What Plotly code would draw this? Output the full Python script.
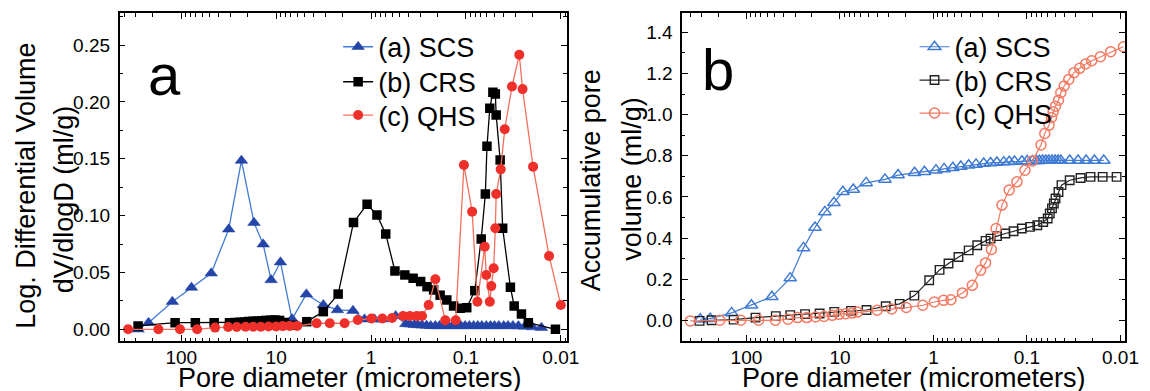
import plotly.graph_objects as go

# ---------------- data (pore diameter in micrometers) ----------------
# Panel a: log differential volume dV/dlogD (ml/g)
scs_a_d = [285, 221, 124, 78, 48.3, 31.6, 23.2, 17.1, 13.7, 11.3,
           9.0, 6.8, 4.8, 3.18, 2.26, 1.55, 1.17, 0.92, 0.76, 0.55,
           0.43, 0.39, 0.35, 0.32, 0.29, 0.26, 0.235, 0.21, 0.19, 0.17,
           0.155, 0.14, 0.125, 0.113, 0.102, 0.092, 0.083, 0.075, 0.068, 0.061,
           0.055, 0.05, 0.045, 0.04, 0.036, 0.032, 0.028, 0.024, 0.02, 0.016]
scs_a_v = [0.0, 0.0058, 0.0243, 0.0367, 0.0493, 0.088, 0.1484, 0.0938, 0.0748, 0.0434,
           0.059, 0.009, 0.0308, 0.0214, 0.017, 0.0164, 0.0088, 0.0088, 0.0088, 0.0117,
           0.0047, 0.0045, 0.004, 0.0038, 0.0035, 0.0033, 0.003, 0.003, 0.003, 0.003,
           0.003, 0.003, 0.003, 0.003, 0.003, 0.003, 0.003, 0.003, 0.003, 0.003,
           0.003, 0.003, 0.003, 0.003, 0.003, 0.003, 0.0028, 0.0025, 0.002, 0.0014]

crs_a_d = [285, 116, 71, 45, 31, 27, 24, 21.5, 19.5, 17.5,
           15.8, 14.2, 12.8, 11.5, 10.3, 9.2, 8.2, 6.6, 4.75, 3.18,
           2.22, 1.53, 1.10, 0.866, 0.70, 0.56, 0.44, 0.36, 0.30, 0.257,
           0.219, 0.187, 0.159, 0.135, 0.115, 0.098, 0.0806, 0.069, 0.0624, 0.060,
           0.056, 0.052, 0.049, 0.048, 0.0436, 0.041, 0.034, 0.031, 0.026, 0.022,
           0.0114]
crs_a_v = [0.003, 0.0058, 0.0058, 0.0058, 0.0058, 0.006, 0.0062, 0.0065, 0.0068, 0.007,
           0.0072, 0.0075, 0.0078, 0.008, 0.0082, 0.0078, 0.006, 0.0035, 0.0067, 0.0155,
           0.031, 0.094, 0.110, 0.1006, 0.0839, 0.0513, 0.0478, 0.0449, 0.042, 0.0375,
           0.0346, 0.030, 0.0258, 0.0205, 0.0185, 0.019, 0.034, 0.0795, 0.119, 0.161,
           0.1945, 0.2086, 0.207, 0.1886, 0.149, 0.0889, 0.037, 0.0205, 0.0135, 0.0058,
           0.0]

qhs_a_d = [363, 174, 103, 68, 44, 32, 26, 21, 17.5, 14.5,
           12, 10, 8.5, 7.2, 6, 3.74, 2.72, 1.9, 1.38, 0.99,
           0.76, 0.6, 0.46, 0.39, 0.33, 0.29, 0.247, 0.21, 0.165, 0.128,
           0.105, 0.086, 0.0757, 0.0634, 0.061, 0.056, 0.054, 0.051, 0.049, 0.048,
           0.043, 0.039, 0.0327, 0.0274, 0.0253, 0.0196, 0.0133, 0.01]
qhs_a_v = [0.0, 0.0, 0.0, 0.0, 0.0015, 0.002, 0.002, 0.0022, 0.0022, 0.0022,
           0.0025, 0.0025, 0.0028, 0.003, 0.003, 0.0053, 0.0053, 0.0053, 0.0082, 0.0095,
           0.0095, 0.010, 0.0117, 0.0117, 0.0117, 0.0117, 0.0214, 0.044, 0.008, 0.008,
           0.1446, 0.1035, 0.0243, 0.0727, 0.0478, 0.0243, 0.038, 0.0537, 0.0889, 0.119,
           0.1407, 0.176, 0.2136, 0.2415, 0.2113, 0.1431, 0.0645, 0.0214]

# Panel b: accumulative pore volume (ml/g)
scs_b_d = [312, 244, 144, 88.5, 53.5, 34, 24.5, 18.5, 14.5, 11.6,
           9.3, 7.2, 5.25, 3.3, 2.39, 1.59, 1.25, 0.94, 0.77, 0.62,
           0.51, 0.42, 0.35, 0.29, 0.245, 0.21, 0.177, 0.155, 0.136, 0.113,
           0.0996, 0.0873, 0.0795, 0.0735, 0.068, 0.063, 0.0585, 0.054, 0.05, 0.0465,
           0.0435, 0.0349, 0.0284, 0.0233, 0.019, 0.0151]
scs_b_v = [0.005, 0.008, 0.036, 0.073, 0.114, 0.205, 0.352, 0.451, 0.527, 0.571,
           0.625, 0.636, 0.668, 0.685, 0.706, 0.717, 0.722, 0.73, 0.736, 0.742,
           0.748, 0.754, 0.758, 0.762, 0.765, 0.767, 0.769, 0.771, 0.772, 0.773,
           0.774, 0.775, 0.776, 0.776, 0.777, 0.777, 0.777, 0.777, 0.777, 0.777,
           0.777, 0.777, 0.777, 0.777, 0.777, 0.777]

crs_b_d = [317, 236, 137, 80, 48.5, 34, 23.6, 16.5, 11.5, 7.6,
           5.2, 3.24, 2.3, 1.6, 1.11, 0.86, 0.69, 0.54, 0.42, 0.34,
           0.277, 0.245, 0.209, 0.17, 0.139, 0.1135, 0.0925, 0.0775, 0.067, 0.06,
           0.057, 0.054, 0.0516, 0.0495, 0.046, 0.0427, 0.0349, 0.0267, 0.0209, 0.0155,
           0.011]
crs_b_v = [-0.003, 0.0, 0.003, 0.013, 0.02, 0.025, 0.03, 0.033, 0.041, 0.046,
           0.05, 0.068, 0.08, 0.12, 0.195, 0.245, 0.276, 0.308, 0.34, 0.365,
           0.386, 0.397, 0.409, 0.422, 0.433, 0.446, 0.454, 0.462, 0.478, 0.495,
           0.519, 0.544, 0.568, 0.592, 0.624, 0.657, 0.681, 0.692, 0.697, 0.697,
           0.697]

qhs_b_d = [398, 192, 115, 74, 49, 36, 28.4, 22.6, 18.2, 14.8,
           12.1, 10.2, 8.7, 7.4, 6.5, 4.0, 2.8, 1.95, 1.3, 0.98,
           0.78, 0.65, 0.49, 0.384, 0.313, 0.277, 0.24, 0.214, 0.185, 0.155,
           0.128, 0.105, 0.0875, 0.0708, 0.0645, 0.058, 0.0546, 0.0524, 0.0495, 0.046,
           0.0435, 0.04, 0.0357, 0.0314, 0.0273, 0.0236, 0.0203, 0.0164, 0.0127, 0.0093]
qhs_b_v = [-0.003, 0.0, 0.0, 0.0, 0.0, 0.005, 0.013, 0.013, 0.016, 0.019,
           0.024, 0.029, 0.032, 0.035, 0.04, 0.049, 0.055, 0.062, 0.073, 0.089,
           0.097, 0.1, 0.133, 0.17, 0.243, 0.279, 0.344, 0.446, 0.56, 0.633,
           0.673, 0.73, 0.775, 0.852, 0.908, 0.949, 0.986, 1.014, 1.041, 1.07,
           1.106, 1.139, 1.171, 1.204, 1.225, 1.246, 1.262, 1.281, 1.306, 1.33]

series_names = ["(a) SCS", "(b) CRS", "(c) QHS"]
x_tick_vals = [100, 10, 1, 0.1, 0.01]
x_tick_text = ["100", "10", "1", "0.1", "0.01"]

# ---------------- styling ----------------
W, H = 1150, 391
FONT = "Liberation Sans, Arial, Helvetica, sans-serif"
BLUE_LINE = "#3f7bd4"
BLUE_FILL = "#2444a8"
RED_LINE = "#f2705c"
RED_FILL = "#ee2f2a"
ORANGE_OPEN = "#f47a62"
BLACK = "#000000"

def px_x(x):
    return x / W

def px_y(y):
    return 1 - y / H

fig = go.Figure()

# panel a
fig.add_trace(go.Scatter(x=scs_a_d, y=scs_a_v, mode="lines+markers", name=series_names[0],
                         line=dict(color=BLUE_LINE, width=1.3),
                         marker=dict(symbol="triangle-up", size=11, color=BLUE_FILL,
                                     line=dict(color=BLUE_FILL, width=0.5)),
                         xaxis="x", yaxis="y", legend="legend"))
fig.add_trace(go.Scatter(x=crs_a_d, y=crs_a_v, mode="lines+markers", name=series_names[1],
                         line=dict(color=BLACK, width=1.3),
                         marker=dict(symbol="square", size=9.5, color=BLACK),
                         xaxis="x", yaxis="y", legend="legend2"))
fig.add_trace(go.Scatter(x=qhs_a_d, y=qhs_a_v, mode="lines+markers", name=series_names[2],
                         line=dict(color=RED_LINE, width=1.3),
                         marker=dict(symbol="circle", size=10, color=RED_FILL),
                         xaxis="x", yaxis="y", legend="legend3"))

# panel b
fig.add_trace(go.Scatter(x=scs_b_d, y=scs_b_v, mode="lines+markers", name=series_names[0],
                         line=dict(color=BLUE_LINE, width=1.2),
                         marker=dict(symbol="triangle-up-open", size=11, color=BLUE_LINE,
                                     line=dict(width=1.5)),
                         xaxis="x2", yaxis="y2", legend="legend4"))
fig.add_trace(go.Scatter(x=crs_b_d, y=crs_b_v, mode="lines+markers", name=series_names[1],
                         line=dict(color="#222222", width=1.2),
                         marker=dict(symbol="square-open", size=8.5, color="#222222",
                                     line=dict(width=1.4)),
                         xaxis="x2", yaxis="y2", legend="legend5"))
fig.add_trace(go.Scatter(x=qhs_b_d, y=qhs_b_v, mode="lines+markers", name=series_names[2],
                         line=dict(color=ORANGE_OPEN, width=1.2),
                         marker=dict(symbol="circle-open", size=10, color=ORANGE_OPEN,
                                     line=dict(width=1.5)),
                         xaxis="x2", yaxis="y2", legend="legend6"))

ydom = [px_y(341), px_y(13.3)]
tickfont = dict(family=FONT, size=19, color=BLACK)

def xaxis_cfg(dom, rng):
    return dict(type="log", domain=dom, range=rng, showline=True, linecolor=BLACK, linewidth=1.5,
                mirror="ticks", ticks="inside", ticklen=6, tickwidth=1.3, tickcolor=BLACK,
                tickvals=x_tick_vals, ticktext=x_tick_text, tickfont=tickfont,
                minor=dict(ticks="inside", ticklen=3.5, tickwidth=1, tickcolor=BLACK, dtick="D1"),
                showgrid=False, zeroline=False, ticklabelstandoff=-2)

def yaxis_cfg(anchor, rng, dtick, fmt, minor_dtick):
    return dict(anchor=anchor, domain=ydom, range=rng, showline=True, linecolor=BLACK, linewidth=1.5,
                mirror="ticks", ticks="inside", ticklen=6, tickwidth=1.3, tickcolor=BLACK,
                dtick=dtick, tick0=0, tickformat=fmt, tickfont=tickfont,
                minor=dict(ticks="inside", ticklen=3.5, tickwidth=1, tickcolor=BLACK,
                           dtick=minor_dtick, tick0=0),
                showgrid=False, zeroline=False, ticklabelstandoff=4)

def legend_cfg(x_left, y_top):
    return dict(x=px_x(x_left), y=px_y(y_top), xanchor="left", yanchor="top",
                bgcolor="rgba(0,0,0,0)", font=dict(family=FONT, size=27, color=BLACK),
                itemsizing="trace")

fig.update_layout(
    width=W, height=H,
    margin=dict(l=0, r=0, t=0, b=0),
    paper_bgcolor="white", plot_bgcolor="white",
    font=dict(family=FONT, color=BLACK),
    xaxis=dict(anchor="y", **xaxis_cfg([px_x(121), px_x(573)], [2.649, -2.06])),
    yaxis=yaxis_cfg("x", [-0.0103, 0.278], 0.05, ".2f", 0.025),
    xaxis2=dict(anchor="y2", **xaxis_cfg([px_x(690), px_x(1138)], [2.687, -2.05])),
    yaxis2=yaxis_cfg("x2", [-0.1007, 1.4925], 0.2, ".1f", 0.1),
    legend=legend_cfg(342, 22.7),
    legend2=legend_cfg(342, 57.7),
    legend3=legend_cfg(342, 91),
    legend4=legend_cfg(925, 22.7),
    legend5=legend_cfg(925, 56),
    legend6=legend_cfg(925, 89),
    showlegend=True,
)

ann_font = dict(family=FONT, size=27, color=BLACK)
annotations = [
    # x-axis titles
    dict(text="Pore diameter (micrometers)", x=px_x(354), y=px_y(377.5), xref="paper", yref="paper",
         xanchor="center", yanchor="middle", showarrow=False, font=ann_font),
    dict(text="Pore diameter (micrometers)", x=px_x(924), y=px_y(377.5), xref="paper", yref="paper",
         xanchor="center", yanchor="middle", showarrow=False, font=ann_font),
    # y-axis titles
    dict(text="Log. Differential Volume", x=px_x(26), y=px_y(186), xref="paper", yref="paper",
         xanchor="center", yanchor="middle", showarrow=False, textangle=-90, font=ann_font),
    dict(text="dV/dlogD (ml/g)", x=px_x(65), y=px_y(199), xref="paper", yref="paper",
         xanchor="center", yanchor="middle", showarrow=False, textangle=-90, font=ann_font),
    dict(text="Accumulative pore", x=px_x(598), y=px_y(180), xref="paper", yref="paper",
         xanchor="center", yanchor="middle", showarrow=False, textangle=-90, font=ann_font),
    dict(text="volume (ml/g)", x=px_x(639), y=px_y(179), xref="paper", yref="paper",
         xanchor="center", yanchor="middle", showarrow=False, textangle=-90, font=ann_font),
    # panel letters
    dict(text="a", x=px_x(166), y=px_y(74), xref="paper", yref="paper",
         xanchor="center", yanchor="middle", showarrow=False,
         font=dict(family=FONT, size=58, color=BLACK)),
    dict(text="b", x=px_x(726), y=px_y(69), xref="paper", yref="paper",
         xanchor="center", yanchor="middle", showarrow=False,
         font=dict(family=FONT, size=58, color=BLACK)),
]
fig.update_layout(annotations=annotations)

fig.write_html("out.html")
